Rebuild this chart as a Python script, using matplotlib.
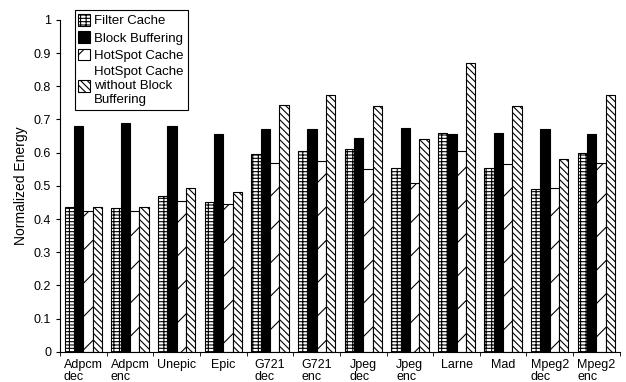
import matplotlib

matplotlib.use("Agg")
import matplotlib.pyplot as plt
import numpy as np

plt.rcParams["font.family"] = ["Liberation Sans", "DejaVu Sans"]
plt.rcParams["hatch.linewidth"] = 0.8

benchmarks = ["Adpcm\ndec", "Adpcm\nenc", "Unepic", "Epic", "G721\ndec", "G721\nenc",
              "Jpeg\ndec", "Jpeg\nenc", "Larne", "Mad", "Mpeg2\ndec", "Mpeg2\nenc"]
filter_cache = [0.435, 0.432, 0.47, 0.45, 0.595, 0.605, 0.61, 0.555, 0.66, 0.555, 0.49, 0.60]
block_buffering = [0.68, 0.69, 0.68, 0.655, 0.67, 0.67, 0.645, 0.675, 0.655, 0.66, 0.67, 0.655]
hotspot_cache = [0.425, 0.425, 0.455, 0.445, 0.57, 0.575, 0.55, 0.51, 0.605, 0.565, 0.495, 0.57]
hotspot_no_bb = [0.435, 0.435, 0.495, 0.48, 0.745, 0.775, 0.74, 0.64, 0.87, 0.74, 0.58, 0.775]

series = [
    ("Filter Cache", filter_cache, "white", "|||-----"),
    ("Block Buffering", block_buffering, "black", None),
    ("HotSpot Cache", hotspot_cache, "white", "/"),
    ("HotSpot Cache\nwithout Block\nBuffering", hotspot_no_bb, "white", "\\\\\\\\\\"),
]

fig = plt.figure(figsize=(6.26, 3.82), dpi=100)
ax = fig.add_axes([0.096, 0.079, 0.894, 0.869])

x = np.arange(len(benchmarks))
w = 0.2
for i, (name, vals, color, hatch) in enumerate(series):
    ax.bar(x + (i - 1.5) * w, vals, w, color=color, edgecolor="black",
           hatch=hatch, linewidth=0.8, label=name)

ax.set_xlim(-0.5, len(benchmarks) - 0.5)
ax.set_ylim(0, 1)
ax.set_yticks(np.arange(0, 1.01, 0.1))
ax.set_yticklabels(["0"] + [f"{v:.1f}" for v in np.arange(0.1, 0.95, 0.1)] + ["1"])
ax.set_xticks(x)
ax.set_xticklabels(benchmarks, multialignment="left", fontsize=9, linespacing=1.0)
ax.set_xticks(np.arange(-0.5, len(benchmarks), 1), minor=True)
ax.tick_params(axis="x", which="major", length=0, pad=5)
ax.tick_params(axis="x", which="minor", length=3, direction="out")
ax.tick_params(axis="y", labelsize=9, length=3)
ax.spines["top"].set_visible(False)
ax.spines["right"].set_visible(False)
ax.set_ylabel("Normalized Energy", fontsize=10)

leg = ax.legend(loc="upper left", bbox_to_anchor=(0.014, 1.05), fontsize=9.5,
                fancybox=False, edgecolor="black", framealpha=1,
                handlelength=0.9, handleheight=1.0, handletextpad=0.3,
                borderpad=0.3, labelspacing=0.3)
leg.get_frame().set_linewidth(0.8)

fig.savefig("out.png", dpi=100)
